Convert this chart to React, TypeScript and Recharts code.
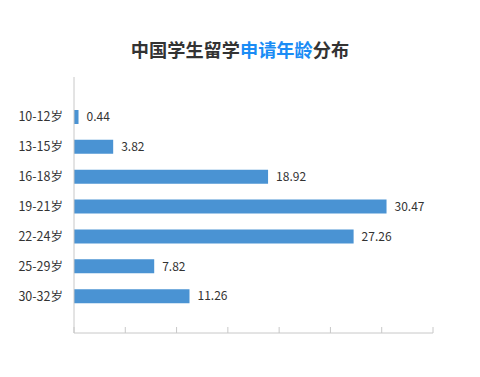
import { BarChart, Bar, XAxis, YAxis, LabelList } from "recharts";

const ageGroups = ["10-12岁", "13-15岁", "16-18岁", "19-21岁", "22-24岁", "25-29岁", "30-32岁"];
const shares = [0.44, 3.82, 18.92, 30.47, 27.26, 7.82, 11.26];
const xTicks = [0, 5, 10, 15, 20, 25, 30, 35];

const data = ageGroups.map((name, i) => ({ name, value: shares[i] }));

const FONT = "'Noto Sans CJK SC', 'Noto Sans', sans-serif";

const NoLabel = () => <g />;

export default function App() {
    return (
        <div style={{ position: "absolute", left: 0, top: 0, width: 480, height: 377, background: "#fff", fontFamily: FONT }}>
            <div
                style={{
                    position: "absolute",
                    top: 36,
                    left: 0,
                    width: 480,
                    textAlign: "center",
                    fontSize: 18.2,
                    fontWeight: 700,
                    color: "#333",
                    lineHeight: "26px",
                }}
            >
                中国学生留学<span style={{ color: "#1a8cf5" }}>申请年龄</span>分布
            </div>
            <BarChart
                width={480}
                height={377}
                data={data}
                layout="vertical"
                margin={{ top: 77, right: 47, bottom: 44, left: 0 }}
            >
                <XAxis
                    type="number"
                    domain={[0, 35]}
                    ticks={xTicks}
                    tick={NoLabel}
                    mirror
                    height={10}
                    tickSize={6}
                    axisLine={{ stroke: "#c8c8c8" }}
                    tickLine={{ stroke: "#c8c8c8" }}
                />
                <YAxis
                    type="category"
                    dataKey="name"
                    width={74}
                    padding={{ top: 25, bottom: 22 }}
                    tickLine={false}
                    axisLine={{ stroke: "#c8c8c8" }}
                    tick={{ fill: "#333", fontSize: 12.5, fontFamily: FONT }}
                    tickMargin={5}
                />
                <Bar dataKey="value" fill="#4a93d3" barSize={14} isAnimationActive={false}>
                    <LabelList dataKey="value" position="right" offset={8} fill="#333" fontSize={12} fontFamily={FONT} />
                </Bar>
            </BarChart>
        </div>
    );
}
